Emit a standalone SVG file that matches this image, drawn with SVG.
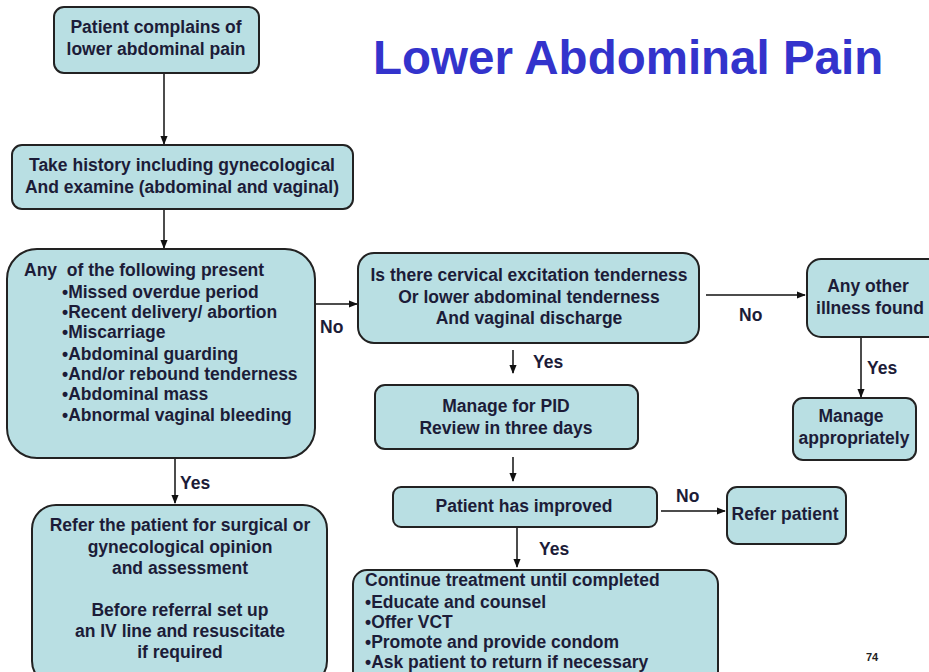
<svg xmlns="http://www.w3.org/2000/svg" width="929" height="672" viewBox="0 0 929 672">
  <defs>
    <marker id="arrow" viewBox="0 0 10 10" refX="9" refY="5" markerWidth="6" markerHeight="6" orient="auto">
      <path d="M0,1 L10,5 L0,9 z" fill="#111"/>
    </marker>
    <style>
      .box { fill: #B9DFE3; stroke: #222; stroke-width: 2; }
      .t { font-family: "Liberation Sans", Arial, sans-serif; font-weight: bold; font-size: 17.5px; fill: #1c1c38; }
      .c { text-anchor: middle; }
      .lbl { font-family: "Liberation Sans", Arial, sans-serif; font-weight: bold; font-size: 17.5px; fill: #1c1c38; }
      .edge { stroke: #111; stroke-width: 1.5; fill: none; marker-end: url(#arrow); }
      .title { font-family: "Liberation Sans", Arial, sans-serif; font-weight: bold; font-size: 47.5px; fill: #3333CC; }
    </style>
  </defs>
  <rect width="929" height="672" fill="#ffffff"/>

  <text class="title" x="373" y="74">Lower Abdominal Pain</text>

  <g id="connectors">
    <line class="edge" x1="164" y1="73" x2="164" y2="144"/>
    <line class="edge" x1="164" y1="209" x2="164" y2="248"/>
    <line class="edge" x1="316" y1="304" x2="357" y2="304"/>
    <text class="lbl" x="320" y="333">No</text>
    <line class="edge" x1="706" y1="295" x2="805" y2="295"/>
    <text class="lbl" x="739" y="321">No</text>
    <line class="edge" x1="861" y1="337" x2="861" y2="397"/>
    <text class="lbl" x="867" y="374">Yes</text>
    <line class="edge" x1="513" y1="350" x2="513" y2="373"/>
    <text class="lbl" x="533" y="368">Yes</text>
    <line class="edge" x1="513" y1="457" x2="513" y2="481"/>
    <line class="edge" x1="661" y1="511" x2="725" y2="511"/>
    <text class="lbl" x="676" y="502">No</text>
    <line class="edge" x1="517" y1="527" x2="517" y2="567"/>
    <text class="lbl" x="539" y="555">Yes</text>
    <line class="edge" x1="175" y1="458" x2="175" y2="503"/>
    <text class="lbl" x="180" y="489">Yes</text>
  </g>

  <g id="start">
    <rect class="box" x="54" y="7" width="205" height="66" rx="10"/>
    <text class="t c" x="156" y="33">Patient complains of</text>
    <text class="t c" x="156" y="55">lower abdominal pain</text>
  </g>

  <g id="history">
    <rect class="box" x="12" y="145" width="341" height="64" rx="10"/>
    <text class="t c" x="182" y="171">Take history including gynecological</text>
    <text class="t c" x="182" y="193">And examine (abdominal and vaginal)</text>
  </g>

  <g id="signs">
    <rect class="box" x="7" y="249" width="308" height="209" rx="30"/>
    <text class="t" x="24" y="276" xml:space="preserve">Any  of the following present</text>
    <text class="t" x="62" y="298">•Missed overdue period</text>
    <text class="t" x="62" y="318">•Recent delivery/ abortion</text>
    <text class="t" x="62" y="338">•Miscarriage</text>
    <text class="t" x="62" y="360">•Abdominal guarding</text>
    <text class="t" x="62" y="380">•And/or rebound tenderness</text>
    <text class="t" x="62" y="400">•Abdominal mass</text>
    <text class="t" x="62" y="421">•Abnormal vaginal bleeding</text>
  </g>

  <g id="refer-surgical">
    <rect class="box" x="32" y="505" width="295" height="180" rx="24"/>
    <text class="t c" x="180" y="531">Refer the patient for surgical or</text>
    <text class="t c" x="180" y="553">gynecological opinion</text>
    <text class="t c" x="180" y="574">and assessment</text>
    <text class="t c" x="180" y="616">Before referral set up</text>
    <text class="t c" x="180" y="637">an IV line and resuscitate</text>
    <text class="t c" x="180" y="658">if required</text>
  </g>

  <g id="cervical">
    <rect class="box" x="358" y="253" width="341" height="90" rx="16"/>
    <text class="t c" x="529" y="281">Is there cervical excitation tenderness</text>
    <text class="t c" x="529" y="303">Or lower abdominal tenderness</text>
    <text class="t c" x="529" y="324">And vaginal discharge</text>
  </g>

  <g id="other-illness">
    <rect class="box" x="807" y="259" width="135" height="78" rx="14"/>
    <text class="t c" x="868" y="292">Any other</text>
    <text class="t c" x="870" y="314">illness found</text>
  </g>

  <g id="manage-appropriately">
    <rect class="box" x="793" y="398" width="123" height="62" rx="10"/>
    <text class="t c" x="851" y="422">Manage</text>
    <text class="t c" x="854" y="444">appropriately</text>
  </g>

  <g id="manage-pid">
    <rect class="box" x="375" y="385" width="263" height="64" rx="10"/>
    <text class="t c" x="506" y="412">Manage for PID</text>
    <text class="t c" x="506" y="434">Review in three days</text>
  </g>

  <g id="improved">
    <rect class="box" x="393" y="487" width="264" height="40" rx="8"/>
    <text class="t c" x="524" y="512">Patient has improved</text>
  </g>

  <g id="refer-patient">
    <rect class="box" x="727" y="487" width="119" height="57" rx="10"/>
    <text class="t c" x="785" y="520">Refer patient</text>
  </g>

  <g id="continue">
    <rect class="box" x="353" y="570" width="365" height="120" rx="14"/>
    <text class="t" x="365" y="586">Continue treatment until completed</text>
    <text class="t" x="365" y="608">•Educate and counsel</text>
    <text class="t" x="365" y="628">•Offer VCT</text>
    <text class="t" x="365" y="648">•Promote and provide condom</text>
    <text class="t" x="365" y="668">•Ask patient to return if necessary</text>
  </g>

  <text x="866" y="661" font-family="Liberation Sans, Arial, sans-serif" font-size="11" font-weight="bold" fill="#222">74</text>
</svg>
